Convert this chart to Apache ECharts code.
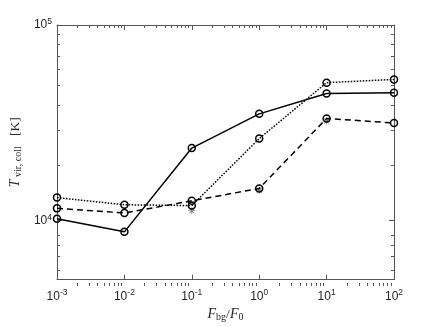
<!DOCTYPE html>
<html>
<head>
<meta charset="utf-8">
<script src="https://cdn.jsdelivr.net/npm/echarts@6/dist/echarts.min.js"></script>
<style>html,body{margin:0;padding:0;background:#fff;}#c{width:436px;height:327px;}</style>
</head>
<body>
<div id="c"></div>
<script>
const xValues = [0.001, 0.01, 0.1, 1, 10, 100];
const solidValues = [10230, 8770, 23500, 35150, 44700, 45100];
const dashedValues = [11560, 10960, 12630, 14620, 33300, 31560];
const dottedValues = [13120, 12060, 11950, 26270, 50750, 52700];
const starX = [0.1, 1, 10];
const starValues = [11250, 14300, 32300];
const xMajorTicks = [0.001, 0.01, 0.1, 1, 10, 100];
const yMajorTicks = [10000, 100000];
const minorMultipliers = [2, 3, 4, 5, 6, 7, 8, 9];
const X_SHIFT = 10; // keeps the tick-only helper axis away from zero

function minorTicksLog(majors, lo, hi, shift) {
  const out = [];
  const decades = majors.slice();
  decades.unshift(majors[0] / 10);
  decades.forEach(d => minorMultipliers.forEach(m => {
    const v = d * m;
    if (v > lo * 1.0001 && v < hi * 0.9999) out.push(Math.log10(v) + shift);
  }));
  return out;
}
const xMinorTicks = minorTicksLog(xMajorTicks, 0.001, 100, X_SHIFT);
const yMinorTicks = minorTicksLog(yMajorTicks, 5000, 100000, 0);

const AX = '#555';
const TXT = '#262626';
const supRich = {
  b: {fontFamily: 'Liberation Sans', fontSize: 12, color: TXT},
  s: {fontFamily: 'Liberation Sans', fontSize: 8.5, color: TXT, padding: [0, 0, 7, 0]}
};
function fmt(v) {
  const l = Math.log10(v);
  const e = Math.round(l);
  if (Math.abs(l - e) > 1e-6) return '';
  return '{b|10}{s|' + e + '}';
}
function mkX(pos, labels) {
  return {
    type: 'log', logBase: 10, min: 0.001, max: 100, position: pos, gridIndex: 0,
    axisLine: {show: true, onZero: false, lineStyle: {color: AX, width: 1}},
    axisTick: {show: true, inside: true, length: 5, lineStyle: {color: AX, width: 1}},
    axisLabel: labels ? {show: true, formatter: fmt, rich: supRich, margin: 9} : {show: false},
    splitLine: {show: false}
  };
}
function mkXMinor(pos) {
  return {
    type: 'value', min: -3 + X_SHIFT, max: 2 + X_SHIFT, position: pos, gridIndex: 1,
    axisLine: {show: false},
    axisTick: {show: true, inside: true, length: 3, customValues: xMinorTicks, lineStyle: {color: AX, width: 1}},
    axisLabel: {show: false},
    splitLine: {show: false}
  };
}
function mkY(pos, labels) {
  return {
    type: 'log', logBase: 10, min: 5000, max: 100000, position: pos, gridIndex: 0,
    axisLine: {show: true, onZero: false, lineStyle: {color: AX, width: 1}},
    axisTick: {show: true, inside: true, length: 5, lineStyle: {color: AX, width: 1}},
    axisLabel: labels ? {show: true, formatter: fmt, rich: supRich, margin: 5} : {show: false},
    splitLine: {show: false}
  };
}
function mkYMinor(pos) {
  return {
    type: 'value', min: Math.log10(5000), max: 5, position: pos, gridIndex: 1,
    axisLine: {show: false},
    axisTick: {show: true, inside: true, length: 3, customValues: yMinorTicks, lineStyle: {color: AX, width: 1}},
    axisLabel: {show: false},
    splitLine: {show: false}
  };
}
const nameRich = {
  i: {fontFamily: 'Liberation Serif', fontStyle: 'italic', fontSize: 14, color: TXT},
  n: {fontFamily: 'Liberation Serif', fontSize: 13.5, color: TXT},
  s: {fontFamily: 'Liberation Serif', fontSize: 10, color: TXT, padding: [5, 0, 0, 0]}
};
const xAxes = [mkX('bottom', true), mkX('top', false), mkXMinor('bottom'), mkXMinor('top')];
xAxes[0].name = '{i|F}{s|bg}{n|/}{i|F}{s|0}';
xAxes[0].nameLocation = 'middle';
xAxes[0].nameGap = 25;
xAxes[0].nameTextStyle = {rich: nameRich};
const yAxes = [mkY('left', true), mkY('right', false), mkYMinor('left'), mkYMinor('right')];
yAxes[0].name = '{i|T}{s| vir, coll}{n|   [K]}';
yAxes[0].nameLocation = 'middle';
yAxes[0].nameRotate = 90;
yAxes[0].nameGap = 24;
yAxes[0].nameTextStyle = {rich: nameRich};

const circleStyle = {color: 'rgba(0,0,0,0)', borderColor: '#000', borderWidth: 1.5};
function lineSeries(vals, type) {
  return {
    type: 'line', xAxisIndex: 0, yAxisIndex: 0,
    data: xValues.map((x, i) => [x, vals[i]]),
    symbol: 'circle', symbolSize: 7, showSymbol: true,
    itemStyle: circleStyle,
    lineStyle: {color: '#000', width: 1.5, type: type},
    emphasis: {disabled: true}, animation: false, z: 3
  };
}
const asterisk = 'path://M-0.12,-1 L0.12,-1 L0.12,1 L-0.12,1 Z M-1,-0.12 L1,-0.12 L1,0.12 L-1,0.12 Z M-0.615,-0.785 L0.785,0.615 L0.615,0.785 L-0.785,-0.615 Z M0.615,-0.785 L0.785,-0.615 L-0.615,0.785 L-0.785,0.615 Z';

const gridRect = {left: 57, right: 42, top: 25, bottom: 41};
const chart = echarts.init(document.getElementById('c'), null, {renderer: 'canvas'});
chart.setOption({
  animation: false,
  backgroundColor: '#fff',
  grid: [Object.assign({}, gridRect), Object.assign({}, gridRect)],
  xAxis: xAxes,
  yAxis: yAxes,
  series: [
    {
      type: 'scatter', xAxisIndex: 0, yAxisIndex: 0,
      data: starX.map((x, i) => [x, starValues[i]]),
      symbol: asterisk, symbolSize: 7,
      itemStyle: {color: '#666'}, z: 2, emphasis: {disabled: true}
    },
    lineSeries(solidValues, 'solid'),
    lineSeries(dashedValues, [6, 4]),
    lineSeries(dottedValues, [1.5, 1.5])
  ]
});
</script>
</body>
</html>
